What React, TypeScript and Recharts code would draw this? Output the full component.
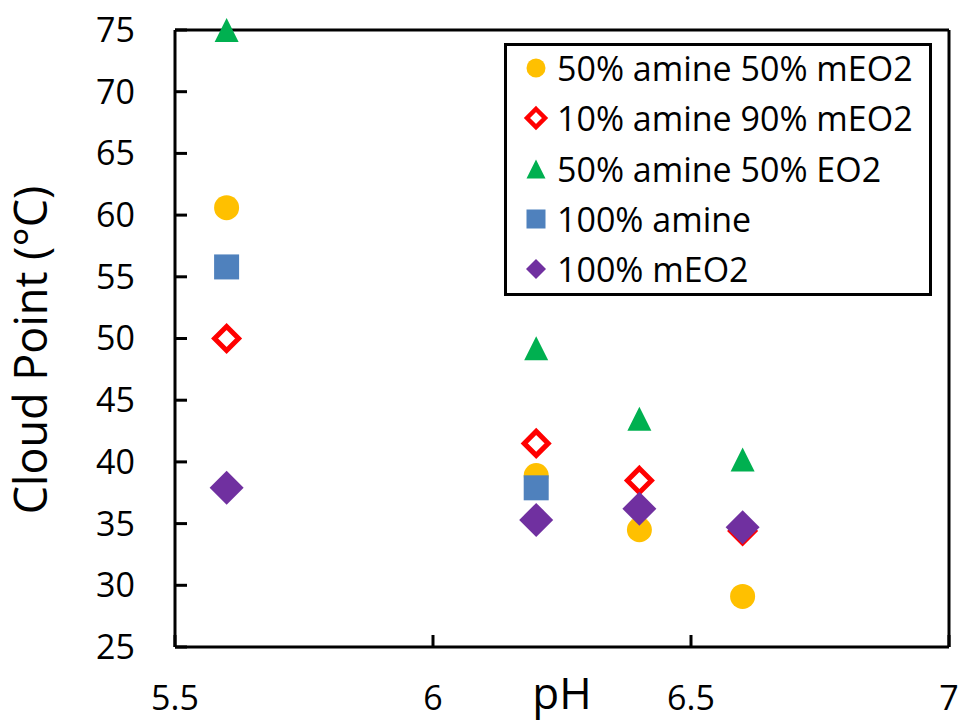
import React from 'react';
import {
  ScatterChart, Scatter, XAxis, YAxis, Legend, Label, ReferenceLine,
} from 'recharts';

const FONT = '"Open Sans", sans-serif';

const xTicks = [5.5, 6, 6.5, 7];
const yTicks = [25, 30, 35, 40, 45, 50, 55, 60, 65, 70, 75];

const amine50mEO2 = [
  { ph: 5.6, cp: 60.6 },
  { ph: 6.2, cp: 38.9 },
  { ph: 6.4, cp: 34.5 },
  { ph: 6.6, cp: 29.1 },
];
const amine10mEO2 = [
  { ph: 5.6, cp: 50.0 },
  { ph: 6.2, cp: 41.5 },
  { ph: 6.4, cp: 38.5 },
  { ph: 6.6, cp: 34.4 },
];
const amine50EO2 = [
  { ph: 5.6, cp: 75.0 },
  { ph: 6.2, cp: 49.2 },
  { ph: 6.4, cp: 43.5 },
  { ph: 6.6, cp: 40.2 },
];
const amine100 = [
  { ph: 5.6, cp: 55.8 },
  { ph: 6.2, cp: 37.9 },
];
const mEO2100 = [
  { ph: 5.6, cp: 37.9 },
  { ph: 6.2, cp: 35.3 },
  { ph: 6.4, cp: 36.2 },
  { ph: 6.6, cp: 34.7 },
];

type Kind = 'circle' | 'openDiamond' | 'triangle' | 'square' | 'diamond';

// draws one marker centred on (cx, cy); s is the marker's nominal size
function Marker({ kind, cx, cy, s }: { kind: Kind; cx: number; cy: number; s: number }) {
  const h = s / 2;
  switch (kind) {
    case 'circle':
      return <circle cx={cx} cy={cy} r={h} fill="#FFC000" />;
    case 'openDiamond': {
      const d = h - 3.5;
      return (
        <path
          d={`M${cx},${cy - d}L${cx + d},${cy}L${cx},${cy + d}L${cx - d},${cy}Z`}
          fill="#fff" stroke="#FF0000" strokeWidth={s > 26 ? 5 : 4.5}
        />
      );
    }
    case 'triangle':
      return <path d={`M${cx},${cy - h}L${cx + h},${cy + h}L${cx - h},${cy + h}Z`} fill="#00B050" />;
    case 'square':
      return <rect x={cx - h} y={cy - h} width={s} height={s} fill="#4F81BD" />;
    default:
      return <path d={`M${cx},${cy - h}L${cx + h},${cy}L${cx},${cy + h}L${cx - h},${cy}Z`} fill="#7030A0" />;
  }
}

const series = [
  { name: '50% amine 50% mEO2', data: amine50mEO2, kind: 'circle' as Kind, size: 25, icon: 19 },
  { name: '10% amine 90% mEO2', data: amine10mEO2, kind: 'openDiamond' as Kind, size: 31, icon: 25 },
  { name: '50% amine 50% EO2', data: amine50EO2, kind: 'triangle' as Kind, size: 24, icon: 19 },
  { name: '100% amine', data: amine100, kind: 'square' as Kind, size: 25, icon: 19 },
  { name: '100% mEO2', data: mEO2100, kind: 'diamond' as Kind, size: 34, icon: 20 },
];

function LegendBox() {
  return (
    <div
      style={{
        boxSizing: 'border-box', width: 428, height: 253, border: '3px solid #000',
        background: '#fff', fontFamily: FONT, fontSize: 34, color: '#000',
      }}
    >
      <div style={{ marginTop: -3 }}>
        {series.map((s) => (
          <div key={s.name} style={{ display: 'flex', alignItems: 'center', height: 50.3, whiteSpace: 'nowrap' }}>
            <svg width={30} height={30} style={{ marginLeft: 14, marginRight: 6, flexShrink: 0 }}>
              <Marker kind={s.kind} cx={15} cy={15} s={s.icon} />
            </svg>
            <span style={{ lineHeight: '50px' }}>{s.name}</span>
          </div>
        ))}
      </div>
    </div>
  );
}

const TICK_LEN = 12;
const Y_GAP = 40;
const X_GAP = 39;
const textStyle = { fontSize: 34, fill: '#000', fontFamily: FONT };

// y ticks point inward, so the tick line is drawn here next to the label
function YTick({ x, y, payload }: any) {
  return (
    <g>
      <line x1={x + Y_GAP} x2={x + Y_GAP + TICK_LEN} y1={y} y2={y} stroke="#000" strokeWidth={3} />
      <text x={x} y={y} dy="0.35em" textAnchor="end" style={textStyle}>{payload.value}</text>
    </g>
  );
}

function XTick({ x, y, payload }: any) {
  return (
    <g>
      <line x1={x} x2={x} y1={y - X_GAP} y2={y - X_GAP - TICK_LEN} stroke="#000" strokeWidth={3} />
      <text x={x} y={y} dy="0.71em" textAnchor="middle" style={textStyle}>{payload.value}</text>
    </g>
  );
}

const axisLine = { stroke: '#000', strokeWidth: 3 };

export default function App() {
  return (
    <div style={{ position: 'absolute', left: 0, top: 0, width: 961, height: 721, background: '#fff' }}>
      <ScatterChart width={961} height={721} margin={{ top: 30, right: 12, bottom: 0, left: 0 }}>
        <XAxis
          type="number" dataKey="ph" domain={[5.5, 7]} ticks={xTicks} height={74}
          axisLine={axisLine} tickLine={false} tickSize={0} tickMargin={X_GAP}
          tick={<XTick />} interval={0}
        >
          <Label value="pH" position="insideBottom" offset={12} style={{ fontSize: 44, fill: '#000', fontFamily: FONT }} />
        </XAxis>
        <YAxis
          type="number" dataKey="cp" domain={[25, 75]} ticks={yTicks} width={175}
          axisLine={axisLine} tickLine={false} tickSize={0} tickMargin={Y_GAP}
          tick={<YTick />} interval={0}
        >
          <Label
            content={() => (
              <text
                x={47} y={350} transform="rotate(-90, 47, 350)" textAnchor="middle"
                style={{ fontSize: 45, fill: '#000', fontFamily: FONT }}
              >
                Cloud Point (°C)
              </text>
            )}
          />
        </YAxis>
        <ReferenceLine y={75} stroke="#000" strokeWidth={3} />
        <ReferenceLine x={7} stroke="#000" strokeWidth={3} />
        {series.map((s) => (
          <Scatter
            key={s.name} name={s.name} data={s.data} isAnimationActive={false}
            shape={(p: any) => <Marker kind={s.kind} cx={p.cx} cy={p.cy} s={s.size} />}
          />
        ))}
        <Legend
          layout="horizontal" verticalAlign="middle" align="center"
          wrapperStyle={{ position: 'absolute', left: 504, top: 43, width: 428, height: 253 }}
          content={() => <LegendBox />}
        />
      </ScatterChart>
    </div>
  );
}
